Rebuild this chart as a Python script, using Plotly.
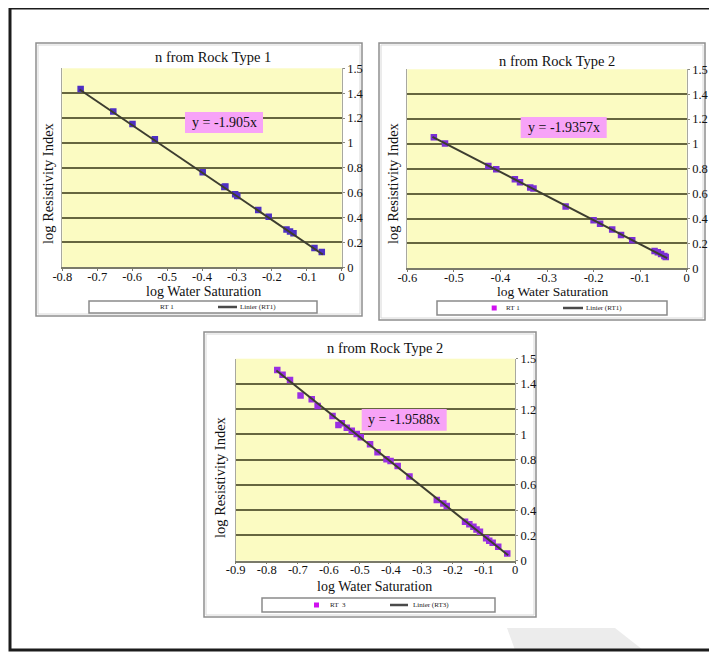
import plotly.graph_objects as go

# ---------------- data ----------------
rt1_x = [-0.7475, -0.654, -0.599, -0.535, -0.398, -0.336, -0.333, -0.305, -0.299,
         -0.239, -0.209, -0.158, -0.148, -0.138, -0.078, -0.057]
rt1_y = [1.434, 1.252, 1.153, 1.029, 0.764, 0.646, 0.649, 0.587, 0.574,
         0.461, 0.407, 0.303, 0.287, 0.273, 0.155, 0.123]

rt2_x = [-0.543, -0.519, -0.426, -0.409, -0.369, -0.358, -0.336, -0.329, -0.260,
         -0.200, -0.186, -0.160, -0.141, -0.117, -0.069, -0.062, -0.055, -0.048, -0.045]
rt2_y = [1.054, 1.003, 0.823, 0.796, 0.716, 0.692, 0.649, 0.641, 0.496,
         0.386, 0.359, 0.311, 0.268, 0.225, 0.139, 0.129, 0.115, 0.099, 0.091]

rt3_x = [-0.766, -0.749, -0.725, -0.691, -0.655, -0.636, -0.588, -0.569, -0.558,
         -0.542, -0.526, -0.510, -0.497, -0.467, -0.443, -0.414, -0.401, -0.378,
         -0.340, -0.252, -0.231, -0.220, -0.161, -0.147, -0.134, -0.124, -0.113,
         -0.093, -0.083, -0.072, -0.054, -0.025]
rt3_y = [1.511, 1.472, 1.432, 1.308, 1.279, 1.226, 1.147, 1.075, 1.088,
         1.054, 1.030, 1.004, 0.978, 0.922, 0.859, 0.803, 0.790, 0.750,
         0.666, 0.481, 0.454, 0.433, 0.309, 0.288, 0.269, 0.248, 0.230,
         0.177, 0.159, 0.143, 0.111, 0.058]

slopes = [-1.905, -1.9357, -1.9588]
equations = ["y = -1.905x", "y = -1.9357x", "y = -1.9588x"]
titles = ["n from Rock Type 1", "n from Rock Type 2", "n from Rock Type 2"]
series_names = ["RT 1", "RT 1", "RT  3"]
trend_names = ["Linier (RT1)", "Linier (RT1)", "Linier (RT3)"]
x_title = "log Water Saturation"
y_title = "log Resistivity Index"

y_tickvals = [0, 0.2, 0.4, 0.6, 0.8, 1.0, 1.2, 1.4, 1.6]
y_ticktext = ["0", "0.2", "0.4", "0.6", "0.8", "1", "1.2", "1.4", "1.5"]
x_ticks_1 = [-0.8, -0.7, -0.6, -0.5, -0.4, -0.3, -0.2, -0.1, 0]
x_ticks_2 = [-0.6, -0.5, -0.4, -0.3, -0.2, -0.1, 0]
x_ticks_3 = [-0.9, -0.8, -0.7, -0.6, -0.5, -0.4, -0.3, -0.2, -0.1, 0]

# ---------------- layout helpers (page pixel -> paper) ----------------
W, H = 717, 652
OFF = 8  # page body margin: the figure starts 8px in from the page corner
def px(x): return (x - OFF) / W
def py(y): return 1 - (y - OFF) / H

FONT = "Liberation Serif"
marker_colors = ["#4E2FC4", "#7B2FD6", "#9A2FE2"]
line_color = "#3d3d30"

fig = go.Figure()

datasets = [(rt1_x, rt1_y), (rt2_x, rt2_y), (rt3_x, rt3_y)]
for i, (xs, ys) in enumerate(datasets):
    ax = "" if i == 0 else str(i + 1)
    fig.add_trace(go.Scatter(
        x=xs, y=ys, mode="markers", xaxis="x" + ax, yaxis="y" + ax,
        marker=dict(symbol="square", size=6.5, color=marker_colors[i],
                    line=dict(width=0)),
        name=series_names[i], showlegend=False, hoverinfo="skip"))
    x0, x1 = min(xs) - 0.003, max(xs) + 0.003
    fig.add_trace(go.Scatter(
        x=[x0, x1], y=[slopes[i] * x0, slopes[i] * x1], mode="lines",
        xaxis="x" + ax, yaxis="y" + ax,
        line=dict(color=line_color, width=2),
        name=trend_names[i], showlegend=False, hoverinfo="skip"))

# plot areas in page pixels: (left, right, top, bottom)
areas = [(62.3, 341.7, 68.3, 267.3), (407.3, 686.7, 69.3, 268.3), (235.7, 515.0, 358.7, 560.7)]
xticks = [x_ticks_1, x_ticks_2, x_ticks_3]

layout = dict(
    width=W, height=H, margin=dict(l=0, r=0, t=0, b=0, pad=0), autosize=False,
    paper_bgcolor="white", plot_bgcolor="#FBFBC2",
    showlegend=False,
    font=dict(family=FONT, color="#111111"),
)
for i, (l, r, t, b) in enumerate(areas):
    ax = "" if i == 0 else str(i + 1)
    layout["xaxis" + ax] = dict(
        domain=[px(l), px(r)], anchor="y" + ax, automargin=False,
        range=[xticks[i][0], 0], tickvals=xticks[i],
        ticktext=[("%g" % v) for v in xticks[i]],
        showgrid=False, zeroline=False, showline=True, linecolor="#7a7a6a",
        linewidth=1.5, ticks="outside", ticklen=2, tickcolor="#7a7a6a",
        ticklabelstandoff=-5,
        tickfont=dict(family=FONT, size=12.5, color="#111111"), fixedrange=True)
    layout["yaxis" + ax] = dict(
        domain=[py(b), py(t)], anchor="x" + ax, side="right", automargin=False,
        range=[0, 1.6], tickvals=y_tickvals, ticktext=y_ticktext,
        showgrid=True, gridcolor="#66663f", gridwidth=1.6,
        zeroline=False, showline=True, mirror=True, linecolor="#a8a8a0",
        linewidth=1, ticks="outside", ticklen=2, tickcolor="#8a8a80",
        ticklabelstandoff=0,
        tickfont=dict(family=FONT, size=12.5, color="#111111"), fixedrange=True)
fig.update_layout(**layout)

shapes = []
annotations = []

def text_ann(text, x, y, size, angle=0, xanchor="center", color="#111111"):
    return dict(text=text, x=px(x), y=py(y), xref="paper", yref="paper",
                showarrow=False, textangle=angle, xanchor=xanchor, yanchor="middle",
                font=dict(family=FONT, size=size, color=color))

# faint watermark pieces
shapes.append(dict(type="path", xref="paper", yref="paper", layer="below",
                   path="M %f %f L %f %f L %f %f L %f %f Z" % (
                       px(507), py(628), px(615), py(628), px(643), py(650), px(515), py(650)),
                   fillcolor="#ececec", line=dict(width=0)))
for (y0, y1) in [(415, 453), (543, 587)]:
    shapes.append(dict(type="rect", xref="paper", yref="paper", layer="below",
                       x0=px(714.5), x1=px(717), y0=py(y1), y1=py(y0),
                       fillcolor="#e4e4e4", line=dict(width=0)))

# outer frame
shapes.append(dict(type="rect", xref="paper", yref="paper",
                   x0=px(10), x1=px(740), y0=py(650), y1=py(8),
                   line=dict(color="#1c1c1c", width=3)))

# panel boxes
boxes = [(36, 362, 43, 316), (379, 705, 43, 320), (204, 536, 332, 617)]
for (l, r, t, b) in boxes:
    shapes.append(dict(type="rect", xref="paper", yref="paper", layer="below",
                       x0=px(l), x1=px(r), y0=py(b), y1=py(t),
                       line=dict(color="#8e8e8e", width=1.5)))
    shapes.append(dict(type="rect", xref="paper", yref="paper", layer="below",
                       x0=px(l + 2), x1=px(r - 2), y0=py(b - 2), y1=py(t + 2),
                       line=dict(color="#d8d8d8", width=1)))

# titles, axis titles
title_pos = [(213, 57), (557, 61), (385, 348)]
xt_pos = [(203, 291), (552, 291), (375, 586)]
xt_size = [14, 13.5, 14]
yt_pos = [(48, 183), (393, 183), (220, 477)]
eq_box = [(185, 263, 112, 133), (520.7, 606.7, 117, 138), (361.7, 446.7, 409, 430.7)]
for i in range(3):
    annotations.append(text_ann(titles[i], title_pos[i][0], title_pos[i][1], 14.5))
    annotations.append(text_ann(x_title, xt_pos[i][0], xt_pos[i][1], xt_size[i]))
    annotations.append(text_ann(y_title, yt_pos[i][0], yt_pos[i][1], 14.5, angle=-90))
    l, r, t, b = eq_box[i]
    shapes.append(dict(type="rect", xref="paper", yref="paper",
                       x0=px(l), x1=px(r), y0=py(b), y1=py(t),
                       fillcolor="#F7A3F7", line=dict(width=0)))
    annotations.append(text_ann(equations[i], (l + r) / 2, (t + b) / 2, 14))

# legend boxes
leg_boxes = [(89, 317, 301, 313), (437, 667, 301, 315), (262, 495, 598, 612)]
leg_square = [None, (491.7, 496.7), (314, 319)]
leg_name_x = [158, 504, 328]
leg_line = [(218, 237), (563, 583), (390, 408)]
leg_trend_x = [238, 584, 411]
for i in range(3):
    l, r, t, b = leg_boxes[i]
    cy = (t + b) / 2
    shapes.append(dict(type="rect", xref="paper", yref="paper",
                       x0=px(l), x1=px(r), y0=py(b), y1=py(t),
                       fillcolor="white", line=dict(color="#8a8a8a", width=1.5)))
    if leg_square[i] is not None:
        s0, s1 = leg_square[i]
        shapes.append(dict(type="rect", xref="paper", yref="paper",
                           x0=px(s0), x1=px(s1), y0=py(cy + 2.5), y1=py(cy - 2.5),
                           fillcolor="#D010F0", line=dict(width=0)))
    annotations.append(text_ann(series_names[i], leg_name_x[i], cy, 7,
                                xanchor="left", color="#222222"))
    a0, a1 = leg_line[i]
    shapes.append(dict(type="line", xref="paper", yref="paper",
                       x0=px(a0), x1=px(a1), y0=py(cy), y1=py(cy),
                       line=dict(color="#4a4a4a", width=2.5)))
    annotations.append(text_ann(trend_names[i], leg_trend_x[i], cy, 7,
                                xanchor="left", color="#222222"))

fig.update_layout(shapes=shapes, annotations=annotations)
fig.write_html("out.html")
